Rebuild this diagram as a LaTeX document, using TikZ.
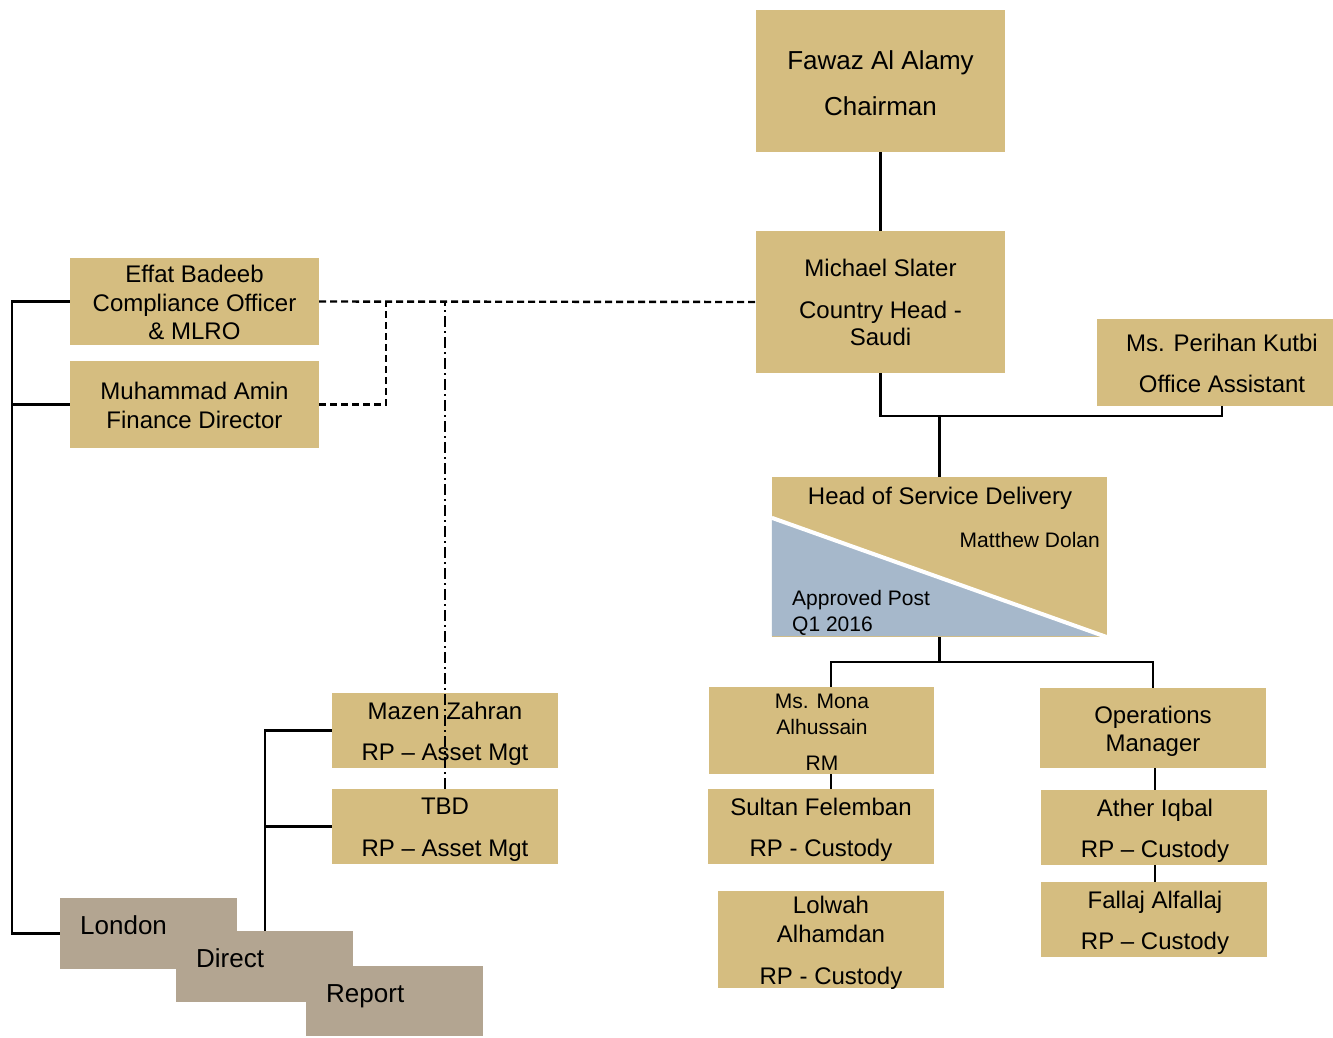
\documentclass[tikz,border=0pt]{standalone}
\usepackage{fontspec}
\setmainfont{Liberation Sans}
\definecolor{gold}{HTML}{D5BD80}
\definecolor{taupe}{HTML}{B3A591}
\definecolor{bluegray}{HTML}{A6B8CB}
\begin{document}
\begin{tikzpicture}[x=1pt,y=-1pt,
  box/.style={fill=gold, draw=none, inner sep=0pt},
  lbox/.style={fill=taupe, draw=none, inner sep=0pt, minimum width=177pt, minimum height=71pt},
  t/.style={anchor=base, inner sep=0pt, font=\fontsize{24}{28}\selectfont},
  ts/.style={anchor=base, inner sep=0pt, font=\fontsize{21}{25}\selectfont},
  tl/.style={anchor=base, inner sep=0pt, font=\fontsize{26}{30}\selectfont},
  conn/.style={draw=black, line width=2.4pt},
  dsh/.style={draw=black, line width=2.4pt, dash pattern=on 7pt off 4pt},
  dd/.style={draw=black, line width=2.4pt, dash pattern=on 11pt off 4pt on 2pt off 4pt}]
\useasboundingbox (0,0) rectangle (1333,1037);
\fill[white] (0,0) rectangle (1333,1037);

% boxes
\node[box, minimum width=249pt, minimum height=142pt] (fawaz) at (880.5,81) {};
\node[box, minimum width=249pt, minimum height=142pt] (michael) at (880.5,302) {};
\node[box, minimum width=236pt, minimum height=87pt] (perihan) at (1215,362.5) {};
\node[box, minimum width=249pt, minimum height=87pt] (effat) at (194.5,301.5) {};
\node[box, minimum width=249pt, minimum height=87pt] (muhammad) at (194.5,404.5) {};
\node[box, minimum width=335pt, minimum height=160pt] (hsd) at (939.5,557) {};
\node[box, minimum width=225pt, minimum height=87pt] (mona) at (821.5,730.5) {};
\node[box, minimum width=226pt, minimum height=75pt] (sultan) at (821,826.5) {};
\node[box, minimum width=226pt, minimum height=97pt] (lolwah) at (831,939.5) {};
\node[box, minimum width=226pt, minimum height=80pt] (ops) at (1153,728) {};
\node[box, minimum width=226pt, minimum height=75pt] (ather) at (1154,827.5) {};
\node[box, minimum width=226pt, minimum height=75pt] (fallaj) at (1154,919.5) {};
\node[box, minimum width=226pt, minimum height=75pt] (mazen) at (445,730.5) {};
\node[box, minimum width=226pt, minimum height=75pt] (tbd) at (445,826.5) {};
\node[lbox] (london) at (148.5,933.5) {};
\node[lbox] (direct) at (264.5,966.5) {};
\node[lbox, minimum height=70pt] (report) at (394.5,1001) {};

% split of head of service delivery
\fill[bluegray] ([yshift=-41pt]hsd.north west) -- ([yshift=1pt]hsd.south west) -- ([xshift=-6pt,yshift=1pt]hsd.south east) -- cycle;
\draw[white, line width=4pt] ([yshift=-41pt]hsd.north west) -- (hsd.south east);

% texts
\node[tl] (fawaz1) at (880.5,69) {Fawaz Al Alamy};
\node[tl] (fawaz2) at (880.5,115) {Chairman};
\node[t] (michael1) at (880.5,276) {Michael Slater};
\node[t] (michael2) at (880.5,318) {Country Head -};
\node[t] (michael3) at (880.5,345) {Saudi};
\node[t] (perihan1) at (1222,351) {Ms. Perihan Kutbi};
\node[t] (perihan2) at (1222,392) {Office Assistant};
\node[t] (effat1) at (194.5,282) {Effat Badeeb};
\node[t] (effat2) at (194.5,311) {Compliance Officer};
\node[t] (effat3) at (194.5,339) {\& MLRO};
\node[t] (muhammad1) at (194.5,399) {Muhammad Amin};
\node[t] (muhammad2) at (194.5,428) {Finance Director};
\node[t] (hsd1) at (940,504) {Head of Service Delivery};
\node[ts, anchor=base east] (hsd2) at (1100,547) {Matthew Dolan};
\node[ts, anchor=base west] (hsd3) at (792,605) {Approved Post};
\node[ts, anchor=base west] (hsd4) at (792,631) {Q1 2016};
\node[ts] (mona1) at (822,708) {Ms. Mona};
\node[ts] (mona2) at (822,734) {Alhussain};
\node[ts] (mona3) at (822,770) {RM};
\node[t] (sultan1) at (821,815) {Sultan Felemban};
\node[t] (sultan2) at (821,856) {RP - Custody};
\node[t] (lolwah1) at (831,913) {Lolwah};
\node[t] (lolwah2) at (831,942) {Alhamdan};
\node[t] (lolwah3) at (831,984) {RP - Custody};
\node[t] (ops1) at (1153,723) {Operations};
\node[t] (ops2) at (1153,751) {Manager};
\node[t] (ather1) at (1155,816) {Ather Iqbal};
\node[t] (ather2) at (1155,857) {RP – Custody};
\node[t] (fallaj1) at (1155,908) {Fallaj Alfallaj};
\node[t] (fallaj2) at (1155,949) {RP – Custody};
\node[t] (mazen1) at (445,719) {Mazen Zahran};
\node[t] (mazen2) at (445,760) {RP – Asset Mgt};
\node[t] (tbd1) at (445,814) {TBD};
\node[t] (tbd2) at (445,856) {RP – Asset Mgt};
\node[tl, anchor=base west] (london1) at (80,934) {London};
\node[tl, anchor=base west] (direct1) at (196,967) {Direct};
\node[tl, anchor=base west] (report1) at (326,1002) {Report};

% connectors
\draw[conn] (fawaz.south) -- (michael.north);
\draw[conn] (michael.south) -- ++(0,43) coordinate (mj) -| ([xshift=7pt]perihan.south);
\draw[conn] (hsd.north) -- (hsd.north |- mj);
\draw[conn] (hsd.south) -- ++(0,25) coordinate (hj) -| ([xshift=9.5pt]mona.north);
\draw[conn] (hj) -| (ops.north);
\draw[conn] ([xshift=9.5pt]mona.south) -- ([xshift=9.5pt]mona.south |- sultan.north);
\draw[conn] ([xshift=2pt]ops.south) -- ([xshift=2pt]ops.south |- ather.north);
\draw[conn] ([xshift=1pt]ather.south) -- ([xshift=1pt]fallaj.north);

\coordinate (lx) at (12,0);
\draw[conn] (effat.west) -- (effat.west -| lx) |- (london.west);
\draw[conn] (muhammad.west) -- (muhammad.west -| lx);
\draw[conn] (mazen.west) -- ++(-67,0) coordinate (mz) -- (mz |- direct.north);
\draw[conn] (tbd.west) -- (tbd.west -| mz);

\draw[dsh] (effat.east) -- (michael.west);
\draw[dsh] (muhammad.east) -- ++(67,0) coordinate (dm) -- (dm |- effat.east);
\draw[dd] (tbd.north) -- (tbd.north |- effat.east);
\end{tikzpicture}
\end{document}
